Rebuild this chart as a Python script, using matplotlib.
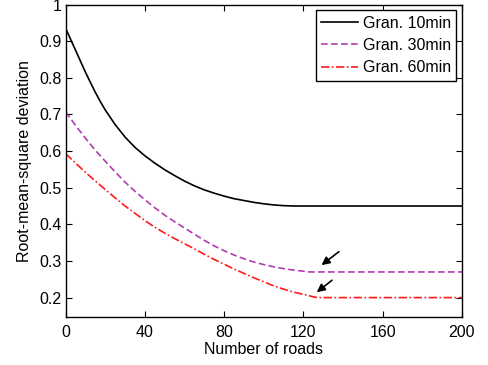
import matplotlib.pyplot as plt
import numpy as np

plt.rcParams['font.family'] = ['Liberation Sans', 'DejaVu Sans']

# values
x10 = [0, 2.5, 5, 7.5, 10, 12.5, 15, 17.5, 20, 25, 30, 35, 40, 45, 50, 55, 60,
       65, 70, 75, 80, 85, 90, 95, 100, 105, 110, 115, 200]
y10 = [0.935, 0.905, 0.875, 0.845, 0.815, 0.787, 0.76, 0.735, 0.712, 0.672,
       0.638, 0.61, 0.587, 0.567, 0.549, 0.533, 0.518, 0.505, 0.494, 0.485,
       0.477, 0.47, 0.465, 0.46, 0.456, 0.453, 0.451, 0.45, 0.45]

x30 = [0, 5, 10, 15, 20, 25, 30, 35, 40, 45, 50, 55, 60, 65, 70, 75, 80, 85,
       90, 95, 100, 105, 110, 115, 120, 123, 200]
y30 = [0.707, 0.67, 0.635, 0.602, 0.572, 0.543, 0.515, 0.49, 0.467, 0.445,
       0.425, 0.407, 0.39, 0.373, 0.356, 0.341, 0.328, 0.316, 0.306, 0.297,
       0.29, 0.284, 0.279, 0.275, 0.272, 0.27, 0.27]

x60 = [0, 5, 10, 15, 20, 25, 30, 35, 40, 45, 50, 55, 60, 65, 70, 75, 80, 85,
       90, 95, 100, 105, 110, 115, 120, 125, 127, 200]
y60 = [0.593, 0.567, 0.542, 0.518, 0.495, 0.472, 0.45, 0.43, 0.41, 0.392,
       0.376, 0.361, 0.347, 0.333, 0.318, 0.304, 0.291, 0.278, 0.266, 0.254,
       0.243, 0.232, 0.223, 0.215, 0.209, 0.202, 0.2, 0.2]

labels = ['Gran. 10min', 'Gran. 30min', 'Gran. 60min']
xticks = [0, 40, 80, 120, 160, 200]
yticks = [0.2, 0.3, 0.4, 0.5, 0.6, 0.7, 0.8, 0.9, 1]

fig = plt.figure(figsize=(4.88, 3.65), dpi=100)
ax = fig.add_axes([0.1346, 0.1315, 0.8121, 0.856])

ax.plot(x10, y10, color='black', lw=1.2, label=labels[0])
ax.plot(x30, y30, color='#B03CB0', lw=1.2, ls=(0, (4, 2)), label=labels[1])
ax.plot(x60, y60, color='#FF1A1A', lw=1.2, ls=(0, (5, 1.5, 1, 1.5)), label=labels[2])

# arrows pointing at the knees of the two lower curves
ax.annotate('', xy=(128, 0.284), xytext=(139, 0.33),
            arrowprops=dict(arrowstyle='-|>', color='black', lw=1.2, mutation_scale=12))
ax.annotate('', xy=(125.6, 0.21), xytext=(135.5, 0.252),
            arrowprops=dict(arrowstyle='-|>', color='black', lw=1.2, mutation_scale=12))

ax.set_xlim(0, 200)
ax.set_ylim(0.147, 1)
ax.set_xticks(xticks)
ax.set_yticks(yticks)
ax.set_yticklabels(['0.2', '0.3', '0.4', '0.5', '0.6', '0.7', '0.8', '0.9', '1'])
ax.tick_params(direction='in', top=True, right=True, labelsize=11.5, length=4, width=0.8)
ax.tick_params(axis='x', pad=6)
ax.tick_params(axis='y', pad=3)
for s in ax.spines.values():
    s.set_linewidth(1.0)

ax.set_xlabel('Number of roads', fontsize=11.5, labelpad=1)
ax.set_ylabel('Root-mean-square deviation', fontsize=11.5, labelpad=5)

leg = ax.legend(loc='upper right', fontsize=11.5, fancybox=False, framealpha=1,
                edgecolor='black', handlelength=2.3, borderpad=0.35,
                labelspacing=0.45, handletextpad=0.3, borderaxespad=0.35)
leg.get_frame().set_linewidth(1.0)

fig.savefig('out.png', dpi=100)
